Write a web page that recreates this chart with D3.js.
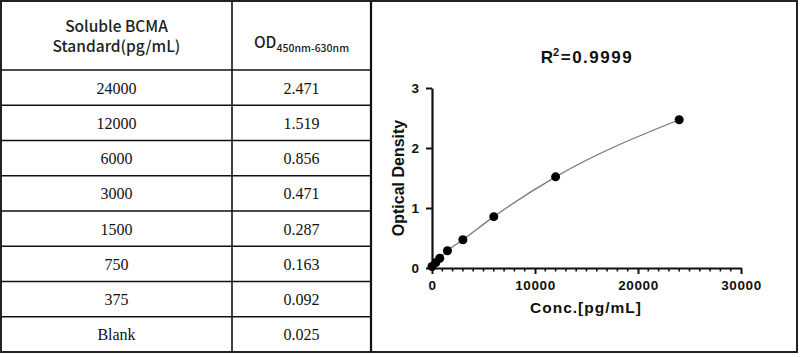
<!DOCTYPE html>
<html><head><meta charset="utf-8">
<script src="https://cdn.jsdelivr.net/npm/d3@7"></script>
<style>html,body{margin:0;padding:0;background:#fff;}svg{display:block;}</style>
</head><body>
<svg id="c" width="800" height="357"></svg>
<script>
const concLabels = ["24000","12000","6000","3000","1500","750","375","Blank"];
const concValues = [24000,12000,6000,3000,1500,750,375,0];
const odValues = [2.471,1.519,0.856,0.471,0.287,0.163,0.092,0.025];
const xTicks = [0,10000,20000,30000];
const yTicks = [0,1,2,3];
const titleText = "R";
const titleSup = "2";
const titleRest = "=0.9999";
const xLabel = "Conc.[pg/mL]";
const yLabel = "Optical Density";

(function(){
const svg = d3.select("#c");
const sans = "'Noto Sans CJK SC','Noto Sans',sans-serif";
const serif = "'Liberation Serif','Times New Roman',serif";
const arial = "'Liberation Sans',Arial,sans-serif";

const tTop = 1, tBottom = 352, tLeft = 1, tRight = 797;
const col1 = 232, col2 = 371;
const headerBottom = 70;
const rowH = (tBottom - headerBottom) / concLabels.length;

const g = svg.append("g");
g.append("rect").attr("x",tLeft).attr("y",tTop).attr("width",tRight-tLeft).attr("height",tBottom-tTop)
  .attr("fill","none").attr("stroke","#222").attr("stroke-width",2);
g.append("line").attr("x1",col1).attr("x2",col1).attr("y1",tTop).attr("y2",tBottom).attr("stroke","#111").attr("stroke-width",1.6);
g.append("line").attr("x1",col2).attr("x2",col2).attr("y1",tTop).attr("y2",tBottom).attr("stroke","#111").attr("stroke-width",2.2);
const rowIdx = d3.range(concLabels.length);
g.selectAll("line.h").data(rowIdx).enter().append("line").attr("class","h")
  .attr("x1",tLeft).attr("x2",col2).attr("y1",i=>headerBottom+i*rowH).attr("y2",i=>headerBottom+i*rowH)
  .attr("stroke","#111").attr("stroke-width",1.6);

const c1x = (tLeft+col1)/2, c2x = (col1+col2)/2;
g.append("text").attr("x",c1x).attr("y",32).attr("text-anchor","middle").attr("font-family",sans).attr("font-weight",500).attr("font-size",15.5).attr("fill","#222").text("Soluble BCMA");
g.append("text").attr("x",c1x).attr("y",52).attr("text-anchor","middle").attr("font-family",sans).attr("font-weight",500).attr("font-size",15.5).attr("fill","#222").text("Standard(pg/mL)");
const od = g.append("text").attr("x",c2x).attr("y",48).attr("text-anchor","middle").attr("font-family",sans).attr("font-weight",500).attr("fill","#222");
od.append("tspan").attr("font-size",15.5).text("OD");
od.append("tspan").attr("font-size",10.5).attr("dy",4).text("450nm-630nm");

g.selectAll("text.c1").data(rowIdx).enter().append("text").attr("class","c1")
  .attr("x",c1x).attr("y",i=>headerBottom+i*rowH+rowH/2+6).attr("text-anchor","middle")
  .attr("font-family",serif).attr("font-size",16).attr("fill","#111").text(i=>concLabels[i]);
g.selectAll("text.c2").data(rowIdx).enter().append("text").attr("class","c2")
  .attr("x",c2x).attr("y",i=>headerBottom+i*rowH+rowH/2+6).attr("text-anchor","middle")
  .attr("font-family",serif).attr("font-size",16).attr("fill","#111").text(i=>odValues[i].toFixed(3));

const x = d3.scaleLinear().domain([0,30000]).range([432,741]);
const y = d3.scaleLinear().domain([0,3]).range([268,88]);

const t = svg.append("text").attr("x",587).attr("y",63).attr("text-anchor","middle")
  .attr("font-family",arial).attr("font-weight","bold").attr("font-size",17).attr("letter-spacing",1.5).attr("fill","#111");
t.append("tspan").text(titleText);
t.append("tspan").attr("font-size",11).attr("dy",-7).attr("dx",-1.5).text(titleSup);
t.append("tspan").attr("dy",7).text(titleRest);

const minor = d3.range(0,30001,1000).filter(v=>v%10000!==0);
svg.append("g").selectAll("line").data(minor).enter().append("line")
  .attr("x1",d=>x(d)).attr("x2",d=>x(d)).attr("y1",268).attr("y2",271.5).attr("stroke","#111").attr("stroke-width",1.6);

const xAxis = svg.append("g").attr("transform","translate(0,268)")
  .call(d3.axisBottom(x).tickValues(xTicks).tickSize(6).tickSizeOuter(0).tickPadding(6).tickFormat(d3.format("d")));
const yAxis = svg.append("g").attr("transform","translate(432,0)")
  .call(d3.axisLeft(y).tickValues(yTicks).tickSize(6).tickSizeOuter(0).tickPadding(7).tickFormat(d3.format("d")));
[xAxis,yAxis].forEach(a=>{
  a.select(".domain").attr("stroke","#111").attr("stroke-width",2.2);
  a.selectAll(".tick line").attr("stroke","#111").attr("stroke-width",2);
  a.selectAll(".tick text").attr("font-family",arial).attr("font-weight","bold").attr("font-size",13.5).attr("fill","#111");
});
xAxis.selectAll(".tick text").attr("letter-spacing",0.6);

svg.append("text").attr("x",586).attr("y",313).attr("text-anchor","middle").attr("font-family",arial)
  .attr("font-weight","bold").attr("font-size",15.5).attr("letter-spacing",1).attr("fill","#111").text(xLabel);
svg.append("text").attr("transform","translate(404,178) rotate(-90)").attr("text-anchor","middle").attr("font-family",arial)
  .attr("font-weight","bold").attr("font-size",16).attr("fill","#111").text(yLabel);

const pts = concValues.map((c,i)=>[c,odValues[i]]).sort((a,b)=>a[0]-b[0]);
const line = d3.line().x(d=>x(d[0])).y(d=>y(d[1])).curve(d3.curveMonotoneX);
svg.append("path").attr("d",line(pts)).attr("fill","none").attr("stroke","#777").attr("stroke-width",1.3);
svg.append("g").selectAll("circle").data(pts).enter().append("circle")
  .attr("cx",d=>x(d[0])).attr("cy",d=>y(d[1])).attr("r",4.5).attr("fill","#000");
})();
</script>
</body></html>
